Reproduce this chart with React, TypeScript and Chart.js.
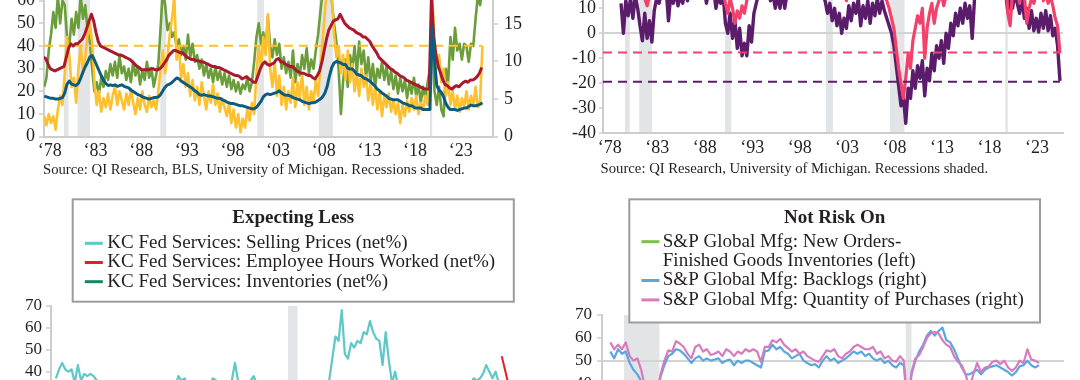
import React, { useEffect, useRef } from "react";
import { Chart, registerables } from "chart.js";

Chart.register(...registerables);

const SERIF = '"Liberation Serif", "Times New Roman", serif';
const TEXT = "#231F20";
const AXIS = "#CDCDCD";
const SHADE = "#E3E4E6";

// Recession periods (year fractions)
const RECESSIONS = [
  [1980.0, 1980.5],
  [1981.5, 1982.85],
  [1990.55, 1991.2],
  [2001.17, 2001.9],
  [2007.92, 2009.45],
  [2020.08, 2020.33],
];

const TICK_YEARS = [1978, 1983, 1988, 1993, 1998, 2003, 2008, 2013, 2018, 2023];

// ---------------- Top-left chart (quarterly) ----------------
const TL_START = 1977.83;
const TL_RED_START = 1977.75;
const TL_STEP = 0.25;
const TL_YELLOW_REF = 40.1;

const TL_GREEN = [
  22,
  26, 38, 45, 55, 48, 62, 50, 60, 58, 44, 40, 52, 45, 55, 48, 62, 52, 58, 47, 42,
  30, 20, 24, 19, 26, 22, 29, 25, 32, 27, 33, 26, 36, 28, 31, 25, 30, 24, 33, 27,
  31, 23, 29, 25, 33, 26, 30, 22, 27, 32, 48, 65, 58, 47, 50, 44, 46, 40, 43, 36,
  40, 34, 45, 35, 41, 33, 36, 30, 34, 27, 32, 26, 30, 24, 31, 25, 29, 23, 28, 22,
  27, 21, 25, 20, 24, 19, 23, 21, 26, 20, 24, 33, 44, 50, 41, 46, 38, 53, 40, 35,
  43, 36, 41, 30, 35, 28, 33, 26, 38, 24, 32, 27, 36, 30, 39, 28, 34, 30, 38, 45,
  55, 64, 66, 62, 66, 60, 50, 42, 30, 10, 25, 34, 22, 36, 30, 40, 28, 42, 32, 38,
  26, 35, 24, 32, 22, 30, 26, 33, 25, 31, 23, 29, 21, 27, 19, 26, 20, 25, 17, 24,
  19, 26, 18, 23, 15, 22, 17, 24, 30, 45, 20, 14, 22, 12, 9, 30, 24, 44, 34, 48,
  38, 41, 34, 41, 40, 33, 41, 40, 52, 62, 58, 66,
];

const TL_YELLOW = [
  9,
  5, 10, 6, 9, 3, 12, 18, 14, 28, 44, 36, 22, 26, 15, 30, 40, 28, 35, 45, 50,
  42, 24, 14, 20, 11, 17, 13, 19, 12, 18, 22, 14, 20, 16, 12, 19, 14, 21, 15, 10,
  17, 12, 20, 14, 11, 18, 13, 16, 12, 20, 30, 38, 28, 35, 45, 52, 62, 34, 40, 26,
  32, 22, 28, 18, 25, 16, 22, 14, 24, 18, 12, 20, 15, 23, 14, 19, 11, 17, 13, 9,
  15, 6, 12, 4, 10, 2, 8, 4, 12, 7, 15, 10, 28, 40, 30, 44, 36, 54, 30, 22,
  33, 18, 27, 14, 22, 12, 20, 15, 26, 13, 24, 17, 28, 14, 22, 12, 20, 15, 25, 18,
  30, 42, 55, 66, 64, 62, 45, 35, 40, 28, 36, 25, 38, 24, 32, 20, 28, 18, 30, 22,
  27, 16, 24, 14, 22, 12, 20, 9, 18, 13, 19, 11, 16, 10, 15, 6, 14, 9, 16, 11,
  17, 12, 18, 10, 15, 12, 18, 14, 30, 64, 40, 30, 36, 24, 30, 18, 24, 14, 20, 12,
  18, 11, 17, 13, 20, 12, 18, 14, 22, 13, 16, 40,
];

const TL_RED = [
  35,
  34.5, 32, 30, 29.5, 29, 29.5, 30, 30.5, 31, 35, 39, 41, 40, 41, 41, 42, 43, 45, 48, 51,
  54, 51, 46, 42, 40, 39.5, 39, 38.5, 38, 37.5, 37, 36.5, 36, 36, 35.5, 35, 34.5, 34, 33, 32,
  31, 30.5, 29.5, 29.5, 29.5, 29.5, 30, 30, 29.5, 29.5, 30, 31, 32.5, 34, 36, 37, 38, 38, 37.5, 37,
  37, 36, 35, 34.5, 34, 34, 33.5, 33.5, 33, 33, 32.5, 32, 31.5, 31, 31, 30.5, 30.5, 30, 29.5, 29,
  28.5, 28, 27.5, 27, 27, 26.5, 25.5, 26, 26.5, 25.5, 25, 24, 24, 27, 30, 32, 33, 32, 31.5, 32,
  32.5, 34, 34.5, 33, 33, 32, 31.5, 31, 31, 30, 29, 28.5, 28, 28, 27.5, 27, 27, 26, 25.5, 27,
  29, 33, 38, 43, 47, 49, 51, 51.5, 52, 54, 52, 50, 49, 48, 47.5, 47, 46, 45.5, 45, 44,
  44, 43, 42, 40, 38.5, 37, 35, 34, 33, 32, 31, 30, 29.5, 28.5, 28, 27, 26.5, 26, 25, 24.5,
  24, 23.5, 23, 22.5, 22, 21.5, 21, 21, 21, 62, 44, 36, 31, 28, 25, 23, 22.5, 21.5, 21, 22,
  22.5, 22, 23, 24, 24.5, 24, 25, 25, 25.5, 26.5, 28, 30.5,
];

const TL_BLUE = [
  5.4,
  5.3, 5.2, 5.1, 5.1, 5.0, 5.0, 5.1, 5.2, 5.8, 7.0, 7.4, 7.0, 6.9, 6.8, 7.1, 7.8, 8.6, 9.3, 9.9, 10.6,
  10.8, 10.2, 9.5, 8.8, 8.1, 7.5, 7.1, 6.8, 6.9, 6.8, 6.9, 6.7, 6.8, 6.9, 6.7, 6.6, 6.5, 6.2, 6.0, 5.8,
  5.6, 5.5, 5.3, 5.2, 5.1, 5.0, 5.1, 5.2, 5.2, 5.3, 5.6, 6.1, 6.6, 6.9, 7.0, 7.2, 7.5, 7.8, 7.7, 7.4,
  7.2, 7.0, 6.8, 6.6, 6.4, 6.1, 5.9, 5.6, 5.5, 5.6, 5.5, 5.4, 5.4, 5.3, 5.2, 5.1, 5.1, 4.9, 4.8, 4.6,
  4.5, 4.4, 4.4, 4.3, 4.2, 4.1, 4.1, 4.0, 3.9, 3.8, 3.7, 3.7, 3.9, 4.3, 4.7, 5.3, 5.6, 5.7, 5.6, 5.7,
  5.8, 5.9, 6.1, 5.8, 5.6, 5.5, 5.5, 5.4, 5.2, 5.1, 5.0, 4.9, 4.7, 4.6, 4.5, 4.4, 4.5, 4.5, 4.6, 4.8,
  5.0, 5.3, 5.8, 6.7, 8.1, 9.2, 9.8, 10.0, 9.9, 9.8, 9.6, 9.6, 9.1, 9.0, 9.0, 8.7, 8.3, 8.2, 8.1, 7.8,
  7.7, 7.5, 7.3, 7.0, 6.7, 6.3, 6.1, 5.8, 5.6, 5.4, 5.1, 5.0, 4.9, 4.9, 4.9, 4.7, 4.5, 4.4, 4.3, 4.1,
  4.1, 3.9, 3.8, 3.8, 3.8, 3.6, 3.6, 3.6, 3.6, 14.7, 10.2, 6.8, 6.2, 5.9, 5.3, 4.4, 3.9, 3.6, 3.6, 3.6,
  3.5, 3.6, 3.7, 3.8, 3.8, 4.0, 4.2, 4.1, 4.1, 4.2, 4.3, 4.5,
];

// ---------------- Top-right chart (quarterly) ----------------
const TR_START = 1979.58;
const TR_STEP = 0.25;
const TR_PINK_REF = -7.7;
const TR_PURPLE_REF = -19.4;

const TR_PURPLE = [
  12, 0, 13, 7, 14, 6, 15, 10, 3, -3,
  8, -2, 5, -3.5, 9, 14, 12, 16, 14, 18,
  5, 16, 12, 17, 11, 15, 12, 18, 13, 17,
  14, 19, 16, 20, 15, 18, 12, 17, 14, 18,
  10, 15, 12, 16, 4, 0, 8, -2, 5, -6,
  2, -9, -4, -9, 3, -3.5, 8, 12, 16, 14,
  18, 15, 17, 13, 16, 10, 15, 10, 17, 10,
  16, 14, 19, 17, 21, 18, 20, 16, 19, 17,
  20, 18, 21, 18, 17, 15, 13, 8, 12, 5,
  10, 3, 8, 0, 6, 2, 11, 5, 12, 8,
  14, 3, 11, 6, 13, 4, 12, 7, 14, 8,
  13, 9, 6, 3, 0, -5, -13, -21, -29, -25,
  -36, -22, -26, -15, -22, -13, -18, -11, -25, -14,
  -19, -8, -15, -5, -10, -3, -12, 0, -6, 4,
  -1, 8, 3, 10, 4, 12, 6, 11, -2, 14,
  18, 16, 20, 17, 21, 18, 16, 20, 17, 19,
  15, 18, 17, 9, 14, 10, 16, 12, 8, 14,
  6, 10, 2, 9, 1, 6, 0.5, 8, 2, 9,
  1, 7, -1, 2, -5, -19,
];

const TR_PINK = [
  20, 18, 22, 20, 24, 22, 25, 22, 18, 16,
  14, 11, 15, 17, 20, 24, 26, 25, 28, 26,
  24, 27, 25, 28, 26, 24, 27, 25, 26, 23,
  25, 24, 26, 22, 24, 25, 23, 26, 22, 24,
  20, 18, 19, 17, 12, 8, 14, 10, 4, 9,
  6, 11, 8, 13, 16, 14, 18, 20, 22, 24,
  22, 25, 23, 24, 22, 21, 24, 22, 25, 23,
  26, 28, 27, 29, 28, 30, 27, 26, 28, 27,
  29, 28, 30, 27, 25, 22, 18, 15, 17, 14,
  16, 15, 17, 14, 16, 13, 18, 16, 20, 18,
  21, 17, 19, 17, 20, 15, 18, 16, 19, 17,
  18, 15, 13, 10, 6, 2, -6, -14, -20, -26,
  -18, -8, -14, -3, 2, 7, 4, 10, -10, 2,
  8, 12, 4, 10, 13, 16, 11, 15, 18, 17,
  20, 22, 24, 21, 23, 22, 20, 21, 18, 24,
  28, 27, 29, 28, 30, 29, 27, 28, 26, 27,
  25, 26, 27, 8, 3, 16, 20, 18, 12, 18,
  15, 4, 10, 14, 12, 16, 14, 18, 13, 16,
  12, 15, 11, 6, 3, -8,
];

// ---------------- Bottom-left chart: KC Fed Services ----------------
const BL_CYAN_START = 2013.92;
const BL_CYAN_STEP = 1 / 12;
const BL_Q_START = 2014.0;
const BL_Q_STEP = 0.25;
const BL_LABELS = [
  "KC Fed Services: Selling Prices (net%)",
  "KC Fed Services: Employee Hours Worked (net%)",
  "KC Fed Services: Inventories (net%)",
];

const BL_CYAN = [
  37, 41, 44, 41, 40, 41, 35, 43, 36, 39, 38, 39, 38, 36,
  33, 30, 28, 31, 27, 29, 26, 30, 28, 25, 27, 29, 26, 28, 30, 27, 25, 29, 31, 28, 26, 30, 32, 29, 33,
  38, 36, 37, 33, 35, 31,
  30, 32, 29, 31,
  34, 37, 36, 33, 31, 34, 32, 36, 44, 36, 33, 35, 32, 36, 38, 34, 30,
  31, 29, 30, 28, 31, 27, 29, 26, 20, 15, 18, 22, 25, 27, 28, 30, 29, 31, 32, 33, 33,
  36, 46, 56, 54, 68, 48, 46, 53, 51, 54, 53, 58, 57, 63, 58, 55, 54, 43, 58, 45, 35, 40,
  33, 31, 29, 30, 27, 28, 26, 29, 27, 25, 28, 26, 29, 27, 30, 28, 26, 29, 31, 28, 30, 32, 31, 34,
  37, 36, 37, 39, 43, 40, 37, 40, 35, 32,
];

const BL_RED = [
  10, 14, 8, 12, 6, 9, 11, 5, 8, 12, 7, 10, 13, 9, 11, 6, 10, 14, 8, 12, 15, 11, 13, 9,
  12, -25, 5, 14, 18, 22, 15, 19, 12, 16, 8, 11, 6, 9, 4, 7, 3, 8, 5, 2, 6, 4,
  null, 47, 29,
];

const BL_GREEN = [
  5, 8, 3, 10, 6, 2, 9, 4, 7, 11, 5, 8, 3, 6, 10, 7, 4, 9, 12, 8, 5, -8, 2, 10,
  16, 20, 24, 18, 14, 12, 9, 6, 4, 7, 3, 8, 5, 2, 6, 1, 4, 7, 3, 5, 2, 6, 4, 3,
];

// ---------------- Bottom-right chart: S&P Global Mfg ----------------
const BR_START = 2007.33;
const BR_STEP = 1 / 6;
const BR_GREEN_STEP = 0.25;
const BR_LABELS = [
  ["S&P Global Mfg: New Orders-", "Finished Goods Inventories (left)"],
  ["S&P Global Mfg: Backlogs (right)"],
  ["S&P Global Mfg: Quantity of Purchases (right)"],
];

const BR_PINK = [
  58, 55, 57, 55, 58, 52, 50, 51, 46, 38,
  33, 30, 34, 44, 50, 54.5, 54, 58.5, 57.5, 56,
  53, 51, 56, 57, 54, 55, 52.5, 53, 54, 52,
  55, 54, 52, 54, 53, 55, 54, 55, 54, 49.5,
  56, 56, 59, 58, 59.5, 57, 55.5, 54, 55, 53,
  54, 52, 51, 50, 49.5, 52, 54.5, 54, 55, 52,
  51, 53, 54, 56, 57, 56, 55, 55, 56, 53,
  54, 51, 52, 50, 49.5, 52, 50, 30, 45, 51,
  52.5, 56, 60, 62, 62.5, 62, 59, 57, 56, 52,
  49.5, 48, 44, 38, 44, 49, 45, 47, 47.5, 49.5,
  50, 48.5, 50, 47, 45.5, 47, 50, 49, 55, 50.5,
  50, 49,
];

const BR_BLUE = [
  54, 51, 55, 53, 54, 49, 46, 44, 41, 35,
  30, 28, 32, 43, 48, 52, 53, 55, 54.5, 53,
  51, 49, 51, 52, 50, 51, 50, 50.5, 51, 49,
  50, 50.5, 48, 50, 49, 50, 50, 49, 48, 47,
  54, 54.5, 57, 55, 56, 54, 53, 51, 52, 53,
  50, 49, 48, 48.5, 47, 50, 52, 50, 51, 49,
  50, 51, 52.5, 54, 53, 54, 52, 53, 51, 50,
  51, 49, 50, 48, 47, 49, 48, 28, 44, 50,
  54, 57, 61, 63, 61, 63, 64.5, 59, 58, 55,
  51, 47, 44, 44, 45, 46, 44, 46, 47, 47.5,
  48, 47, 46, 45, 43.5, 45, 47.5, 48, 50, 48,
  47, 48,
];

const BR_GREEN = [
  6, 4, 2, -8, -12, -5, 3, 8, 10, 7, 5, 6, 3, 4, 5, 2, 3, 4, 6, 5,
  3, 4, 2, 5, 6, 7, 5, 4, 3, 2, 1, 3, 4, 5, 6, 5, 4, 3, 2, 0,
  1, 2, -10, 8, 12, 10, 7, 4, 2, 0, -3, -2, 1, 2, 3, 1, 0, 2, 3, 2,
  1, 3, 4, 2, 1, 0, 2, 3, 1, -1, 0, 2, 3, 1, 0,
];

// ---------------- helpers ----------------
function pts(start: number, step: number, values: (number | null)[]) {
  return values.map((v, i) => ({ x: start + i * step, y: v }));
}

function yearLabel(v: number) {
  return "\u2018" + String(Math.floor(v + 0.001)).slice(2);
}

const recessionPlugin = {
  id: "recessions",
  beforeDraw(chart: any) {
    const { ctx, chartArea, scales } = chart;
    const xs = scales.x;
    if (!xs || !chartArea) return;
    ctx.save();
    ctx.beginPath();
    ctx.rect(chartArea.left, chartArea.top, chartArea.right - chartArea.left, chartArea.bottom - chartArea.top);
    ctx.clip();
    ctx.fillStyle = SHADE;
    for (const [a, b] of RECESSIONS) {
      const x0 = xs.getPixelForValue(a);
      const x1 = xs.getPixelForValue(b);
      ctx.fillRect(x0, chartArea.top, Math.max(1.5, x1 - x0), chartArea.bottom - chartArea.top);
    }
    ctx.restore();
  },
};

const sourcePlugin = {
  id: "sourceNote",
  afterDraw(chart: any, _a: any, opts: any) {
    if (!opts || !opts.text) return;
    const { ctx, chartArea } = chart;
    ctx.save();
    ctx.font = `${opts.size}px ${SERIF}`;
    ctx.fillStyle = TEXT;
    ctx.textAlign = "left";
    ctx.textBaseline = "middle";
    ctx.fillText(opts.text, chartArea.left + opts.dx, opts.y);
    ctx.restore();
  },
};

const boxLegendPlugin = {
  id: "boxLegend",
  afterDraw(chart: any, _a: any, opts: any) {
    if (!opts || !opts.box) return;
    const { ctx } = chart;
    const [bx, by, bw, bh] = opts.box;
    ctx.save();
    ctx.fillStyle = "#ffffff";
    ctx.fillRect(bx, by, bw, bh);
    ctx.strokeStyle = "#9C9C9C";
    ctx.lineWidth = 2;
    ctx.strokeRect(bx, by, bw, bh);
    ctx.fillStyle = TEXT;
    ctx.textBaseline = "middle";
    ctx.textAlign = "center";
    ctx.font = `bold 19px ${SERIF}`;
    ctx.fillText(opts.title, bx + bw / 2, opts.titleY);
    ctx.textAlign = "left";
    ctx.font = `19px ${SERIF}`;
    let y = opts.firstY;
    for (const idx of opts.order) {
      const ds = chart.data.datasets[idx];
      const lines: string[] = ds.legendLines || [ds.label];
      ctx.strokeStyle = ds.borderColor;
      ctx.lineWidth = 3;
      ctx.setLineDash([]);
      ctx.beginPath();
      ctx.moveTo(opts.markerX0, y);
      ctx.lineTo(opts.markerX1, y);
      ctx.stroke();
      ctx.fillStyle = TEXT;
      lines.forEach((ln, k) => ctx.fillText(ln, opts.textX, y + k * opts.lineH));
      y += lines.length * opts.lineH;
    }
    ctx.restore();
  },
};

function lineDs(label: string, data: any[], color: string, width: number, extra: any = {}) {
  return {
    label,
    data,
    borderColor: color,
    backgroundColor: color,
    borderWidth: width,
    pointRadius: 0,
    tension: 0,
    fill: false,
    spanGaps: false,
    borderJoinStyle: "round",
    ...extra,
  };
}

function yAxis(opts: any) {
  const hasGrid = opts.gridValue !== undefined;
  return {
    type: "linear",
    position: opts.position || "left",
    min: opts.min,
    max: opts.max,
    ticks: {
      stepSize: opts.step,
      includeBounds: false,
      autoSkip: false,
      font: { family: SERIF, size: opts.fontSize },
      color: TEXT,
      padding: opts.padding,
    },
    grid: {
      display: true,
      drawOnChartArea: hasGrid,
      drawTicks: true,
      tickLength: opts.tickLength ?? 5,
      tickColor: AXIS,
      tickWidth: 1.5,
      lineWidth: 2,
      color: (c: any) => (hasGrid && c.tick && c.tick.value === opts.gridValue ? "#D3D3D3" : "rgba(0,0,0,0)"),
    },
    border: { display: true, color: AXIS, width: 2 },
    afterFit: (s: any) => {
      s.width = opts.width;
    },
  };
}

function xAxisYears(min: number, max: number, offset: number, height: number, padding: number) {
  return {
    type: "linear",
    min,
    max,
    grid: { display: false, drawTicks: false },
    border: { display: true, color: AXIS, width: 2 },
    ticks: {
      autoSkip: false,
      maxRotation: 0,
      font: { family: SERIF, size: 18 },
      color: TEXT,
      padding,
      callback: (v: any) => yearLabel(Number(v)),
    },
    afterBuildTicks: (s: any) => {
      s.ticks = TICK_YEARS.map((y) => ({ value: y + offset }));
    },
    afterFit: (s: any) => {
      s.height = height;
    },
  };
}

function hiddenX(min: number, max: number) {
  return { type: "linear", min, max, display: false };
}

const BASE = {
  responsive: false,
  maintainAspectRatio: false,
  animation: false,
  devicePixelRatio: 1,
  events: [],
  normalized: true,
};

// ---------------- configs ----------------
function topLeftConfig(): any {
  return {
    type: "line",
    data: {
      datasets: [
        lineDs("Blue", pts(TL_START, TL_STEP, TL_BLUE), "#0D5C80", 3, { yAxisID: "y1" }),
        lineDs("Red", pts(TL_RED_START, TL_STEP, TL_RED), "#AA1A2D", 3, { yAxisID: "y" }),
        lineDs("Yellow ref", [{ x: 1977.81, y: TL_YELLOW_REF }, { x: 2025.83, y: TL_YELLOW_REF }], "#FDC02F", 2, {
          yAxisID: "y",
          borderDash: [9, 6],
        }),
        lineDs("Yellow", pts(TL_START, TL_STEP, TL_YELLOW), "#FDC02F", 2.6, { yAxisID: "y" }),
        lineDs("Green", pts(TL_START, TL_STEP, TL_GREEN), "#6B9E3A", 2.6, { yAxisID: "y" }),
      ],
    },
    options: {
      ...BASE,
      layout: { padding: { top: 38, left: 0, right: 0, bottom: 0 } },
      plugins: {
        legend: { display: false },
        tooltip: { enabled: false },
        sourceNote: { text: "Source: QI Research, BLS, University of Michigan. Recessions shaded.", dx: -1, y: 230, size: 14.7 },
      },
      scales: {
        x: xAxisYears(1977.81, 2026.99, 0.45, 43.3, 4),
        y: yAxis({ min: 0, max: 70, step: 10, fontSize: 18, padding: 4, width: 44 }),
        y1: yAxis({ position: "right", min: 0, max: 21.1, step: 5, fontSize: 18, padding: 6, width: 47 }),
      },
    },
    plugins: [recessionPlugin, sourcePlugin],
  };
}

function topRightConfig(): any {
  return {
    type: "line",
    data: {
      datasets: [
        lineDs("Pink ref", [{ x: 1977.68, y: TR_PINK_REF }, { x: 2025.83, y: TR_PINK_REF }], "#F2416B", 2, {
          borderDash: [9, 6],
        }),
        lineDs("Purple ref", [{ x: 1977.68, y: TR_PURPLE_REF }, { x: 2025.83, y: TR_PURPLE_REF }], "#5B1C6C", 2, {
          borderDash: [9, 6],
        }),
        lineDs("Pink", pts(TR_START, TR_STEP, TR_PINK), "#F2416B", 3.2),
        lineDs("Purple", pts(TR_START, TR_STEP, TR_PURPLE), "#5B1C6C", 3.4),
      ],
    },
    options: {
      ...BASE,
      layout: { padding: { top: 43.3, left: 0, right: 17, bottom: 0 } },
      plugins: {
        legend: { display: false },
        tooltip: { enabled: false },
        sourceNote: { text: "Source: QI Research, University of Michigan. Recessions shaded.", dx: -2.4, y: 229, size: 14.7 },
      },
      scales: {
        x: xAxisYears(1977.68, 2026.15, 0.4, 46.7, 4),
        y: yAxis({ min: -40, max: 20, step: 10, fontSize: 18, padding: 3, width: 63, tickLength: 4, gridValue: 0 }),
      },
    },
    plugins: [recessionPlugin, sourcePlugin],
  };
}

function bottomLeftConfig(): any {
  return {
    type: "line",
    data: {
      datasets: [
        lineDs(BL_LABELS[0], pts(BL_CYAN_START, BL_CYAN_STEP, BL_CYAN), "#5DC8C6", 2.2),
        lineDs(BL_LABELS[1], pts(BL_Q_START, BL_Q_STEP, BL_RED), "#E31E26", 2),
        lineDs(BL_LABELS[2], pts(BL_Q_START, BL_Q_STEP, BL_GREEN), "#10876A", 2),
      ],
    },
    options: {
      ...BASE,
      layout: { padding: { top: 115.7, left: 0, right: 19, bottom: 30.3 } },
      plugins: {
        legend: { display: false },
        tooltip: { enabled: false },
        boxLegend: {
          box: [72.7, 9.3, 441.1, 102.4],
          title: "Expecting Less",
          titleY: 28.3,
          markerX0: 84.8,
          markerX1: 102.8,
          textX: 107.3,
          firstY: 53.3,
          lineH: 19.2,
          order: [0, 1, 2],
        },
      },
      scales: {
        x: hiddenX(2013.79, 2026.26),
        y: yAxis({ min: 0, max: 70, step: 10, fontSize: 17, padding: 4, width: 51 }),
      },
    },
    plugins: [recessionPlugin, boxLegendPlugin],
  };
}

function bottomRightConfig(): any {
  const ds = [
    lineDs(BR_LABELS[2].join(" "), pts(BR_START, BR_STEP, BR_PINK), "#D77BBE", 2.2, { legendLines: BR_LABELS[2] }),
    lineDs(BR_LABELS[1].join(" "), pts(BR_START, BR_STEP, BR_BLUE), "#5AA7E0", 2.2, { legendLines: BR_LABELS[1] }),
    lineDs(BR_LABELS[0].join(" "), pts(BR_START, BR_GREEN_STEP, BR_GREEN), "#7BC143", 2.2, { legendLines: BR_LABELS[0] }),
  ];
  return {
    type: "line",
    data: { datasets: ds },
    options: {
      ...BASE,
      layout: { padding: { top: 125, left: 0, right: 16, bottom: 15 } },
      plugins: {
        legend: { display: false },
        tooltip: { enabled: false },
        boxLegend: {
          box: [89.3, 9.3, 410.7, 123.2],
          title: "Not Risk On",
          titleY: 28.3,
          markerX0: 101.4,
          markerX1: 119.4,
          textX: 122.8,
          firstY: 51.7,
          lineH: 19.4,
          order: [2, 1, 0],
        },
      },
      scales: {
        x: hiddenX(2006.97, 2026.91),
        y: yAxis({ min: 0, max: 70, step: 10, fontSize: 17, padding: 5, width: 62, gridValue: 50 }),
      },
    },
    plugins: [recessionPlugin, boxLegendPlugin],
  };
}

function ChartCanvas(props: { left: number; top: number; width: number; height: number; make: () => any }) {
  const ref = useRef<HTMLCanvasElement | null>(null);
  useEffect(() => {
    if (!ref.current) return;
    const chart = new Chart(ref.current, props.make());
    return () => chart.destroy();
  }, []);
  return (
    <canvas
      ref={ref}
      width={props.width}
      height={props.height}
      style={{ position: "absolute", left: props.left, top: props.top, width: props.width, height: props.height, display: "block" }}
    />
  );
}

export default function App() {
  return (
    <div
      style={{
        position: "fixed",
        left: 0,
        top: 0,
        width: 1080,
        height: 380,
        overflow: "hidden",
        background: "#ffffff",
      }}
    >
      <ChartCanvas left={0} top={-60} width={540} height={240} make={topLeftConfig} />
      <ChartCanvas left={540} top={-60} width={540} height={240} make={topRightConfig} />
      <ChartCanvas left={0} top={190} width={540} height={300} make={bottomLeftConfig} />
      <ChartCanvas left={540} top={190} width={540} height={300} make={bottomRightConfig} />
    </div>
  );
}
